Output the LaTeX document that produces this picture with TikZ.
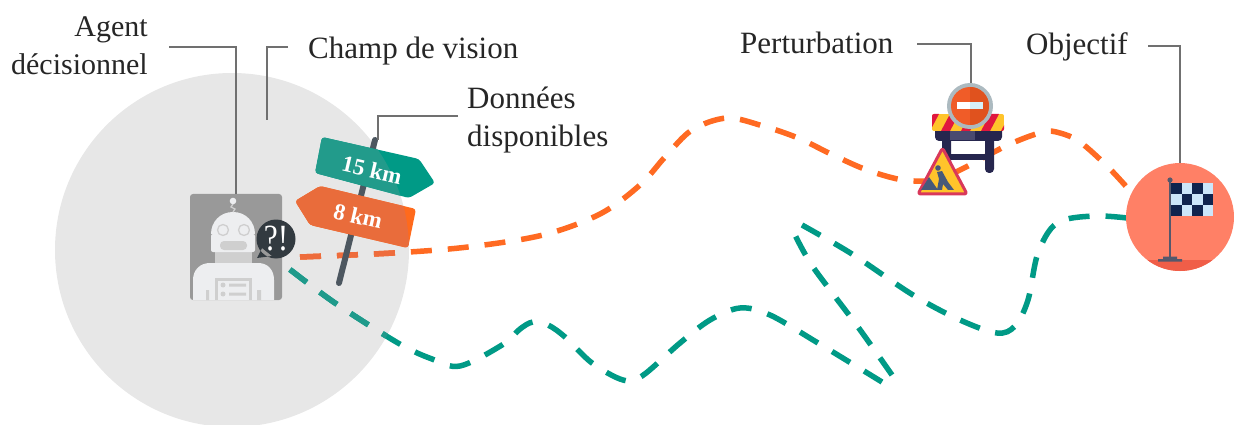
\documentclass[tikz,border=0pt]{standalone}
\usepackage{fontspec}
\setmainfont{Liberation Serif}
\usetikzlibrary{calc}
\definecolor{lead}{HTML}{707070}
\definecolor{fov}{HTML}{E7E7E7}
\definecolor{oran}{HTML}{FF6A22}
\definecolor{oranIn}{HTML}{EE6C3C}
\definecolor{teal2}{HTML}{009A86}
\definecolor{tealIn}{HTML}{1F9A8B}
\definecolor{tealA}{HTML}{009A86}
\definecolor{tealB}{HTML}{229B8B}
\definecolor{orA}{HTML}{FF6A1C}
\definecolor{orB}{HTML}{E96C3B}
\definecolor{navy}{HTML}{26264E}
\definecolor{navyL}{HTML}{4A4A70}
\definecolor{ylw}{HTML}{FFC42B}
\definecolor{redd}{HTML}{E0173F}
\definecolor{wgrey}{HTML}{46597A}
\definecolor{rface}{HTML}{EDEEF0}
\definecolor{rshade}{HTML}{CFCFCF}
\definecolor{bubc}{HTML}{323A40}
\definecolor{postc}{HTML}{4D5760}
\definecolor{ringc}{HTML}{ACBAC0}
\definecolor{nokA}{HTML}{F05C28}
\definecolor{nokB}{HTML}{E0521E}
\definecolor{barB}{HTML}{D6F0F8}
\definecolor{tribord}{HTML}{D9385A}
\definecolor{goal}{HTML}{FF8066}
\definecolor{goalB}{HTML}{F05E48}
\definecolor{polec}{HTML}{55586C}
\definecolor{chkL}{HTML}{CCE6FA}
\definecolor{chkD}{HTML}{10244E}
\tikzset{
  lbl/.style={font=\fontsize{31}{38}\selectfont, text=black!85, inner sep=0pt},
  leadline/.style={draw=lead, line width=1.3pt},
  dashpath/.style={line width=5.5pt, dash pattern=on 21pt off 16pt},
  signtxt/.style={font=\fontsize{23}{26}\bfseries\selectfont, text=white, rotate=-13, inner sep=0pt},
}
\newcommand{\orangeway}{plot[smooth,tension=0.55] coordinates {(300,257)(393,253)(468,247)(543,235)(600,214)(640,185)(665,157)(692,130)(727,118)(763,126)(798,138)(833,155)(867,170)(903,180)(935,180)(960,170)(1008,145)(1043,132)(1060,133)(1080,142)(1108,167)(1132,193)}}
\newcommand{\tealwayA}{plot[smooth,tension=0.55] coordinates {(882,382)(818,343)(770,315)(740,308)(710,320)(680,343)(642,376)(623,380)(592,363)(565,337)(548,325)(533,322)(520,329)(502,345)(460,366)(432,359)(398,343)(335,303)(288,268)}}
\newcommand{\tealwayB}{plot[smooth,tension=0.5] coordinates {(892,375)(858,327)(813,267)(795,235)}}
\newcommand{\tealwayC}{plot[smooth,tension=0.55] coordinates {(802,225)(852,254)(913,295)(960,320)(997,333)(1015,326)(1028,300)(1038,253)(1057,223)(1093,216)(1127,218)}}
\newcommand{\signA}{(322,137) -- (419,159) -- (435,183) -- (409,198) -- (315,173) -- cycle}
\newcommand{\signB}{(320,186) -- (416,209) -- (408,248) -- (310,225) -- (295,201) -- cycle}
\begin{document}
\begin{tikzpicture}[x=1pt,y=-1pt]
\useasboundingbox (0,0) rectangle (1235,425);
\begin{scope}
\clip (0,0) rectangle (1235,425);
\fill[fov] (232,250) circle[radius=177];
\end{scope}
% paths
\draw[dashpath,oran] \orangeway;
\draw[dashpath,teal2,dash pattern=on 21pt off 16.5pt] \tealwayA;
\draw[dashpath,teal2] \tealwayB;
\draw[dashpath,teal2] \tealwayC;
\begin{scope}
\clip (232,250) circle[radius=177];
\draw[dashpath,oranIn] \orangeway;
\draw[dashpath,tealIn,dash pattern=on 21pt off 16.5pt] \tealwayA;
\end{scope}
% robot card
\fill[black!40, rounded corners=3pt] (190,194) rectangle (282,300);
\begin{scope}
\clip[rounded corners=3pt] (190,194) rectangle (282,300);
\fill[rshade] (215,250) rectangle (252,266);
\fill[rface] (193,300) -- (193,280) .. controls (193,270) and (200,263) .. (210,263) -- (258,263) .. controls (268,263) and (274,270) .. (274,280) -- (274,300) -- cycle;
\fill[rshade] (215,278) rectangle (252,300);
\fill[rface] (218,281) rectangle (249,300);
\fill[rshade] (223,285) circle[radius=2.5] (223,294) circle[radius=2.5];
\fill[rshade] (229,283.5) rectangle (246,286.5) (229,292.5) rectangle (246,295.5);
\fill[rshade] (206,290) rectangle (209,300) (257,290) rectangle (261,300);
\end{scope}
\fill[rface, rounded corners=2pt] (211,234) -- (211,252) -- (255,252) -- (255,234) -- cycle;
\fill[rface] (211,234) .. controls (211,222) and (220,212) .. (233,212) .. controls (246,212) and (255,222) .. (255,234) -- cycle;
\draw[rshade,line width=1.3pt] (223,230) circle[radius=5.5] (244,230) circle[radius=5.5];
\fill[rshade,rounded corners=4pt] (220,241) rectangle (247,250);
\draw[rshade,line width=1.3pt] (233,204) -- (231,207) -- (235,209) -- (233,212);
\fill[rface] (233,201) circle[radius=3.3];
% bubble
\fill[bubc] (276,239) circle[radius=19.5] (262,248) -- (257,258) -- (272,256) -- cycle;
\node[font=\fontsize{37}{38}\selectfont, text=white, inner sep=0pt, xscale=0.85] (bub) at (276,239) {?!};
% post
\coordinate (posttop) at (375,140);
\coordinate (postbot) at (339,283);
\draw[line width=6pt, line cap=round, draw=postc] (posttop) -- (postbot);
% signs
\fill[tealA, rounded corners=3pt] \signA;
\fill[orA, rounded corners=3pt] \signB;
\begin{scope}
\clip (232,250) circle[radius=177];
\fill[tealB, rounded corners=3pt] \signA;
\fill[orB, rounded corners=3pt] \signB;
\end{scope}
\node[signtxt] (km15) at (372,170) {15 km};
\node[signtxt] (km8) at (358,216) {8 km};
% barrier
\fill[navy, rounded corners=3pt] (942,135) rectangle (951,172);
\fill[navy, rounded corners=4pt] (985,135) rectangle (994,173);
\fill[navy] (951,154) rectangle (985,160);
\fill[navy, rounded corners=4pt] (935,126) rectangle (1002,141);
\fill[navyL] (950,131) rectangle (975,140);
\begin{scope}
\clip[rounded corners=2pt] (932,114) rectangle (1004,131);
\fill[ylw] (932,114) rectangle (1004,131);
\foreach \s in {921,941,961,981,1001} \fill[redd] (\s,131) -- (\s+9,114) -- (\s+18,114) -- (\s+9,131) -- cycle;
\end{scope}
\fill[ringc] (970,106) circle[radius=23];
\fill[nokA] (970,106) circle[radius=19];
\begin{scope}
\clip (970,80) rectangle (1000,130);
\fill[nokB] (970,106) circle[radius=19];
\end{scope}
\fill[white] (957,102) rectangle (970,109.5);
\fill[barB] (970,102) rectangle (983,109.5);
\draw[line width=3pt, draw=tribord, fill=ylw, line join=round, rounded corners=2.5pt] (942.5,148) -- (967,194) -- (918,194) -- cycle;
\fill[wgrey] (921,190) -- (929,177) -- (938,190) -- cycle;
\fill[wgrey] (938,168) circle[radius=2.8];
\fill[wgrey] (937,172) -- (942,171) -- (948,182) -- (954,190) -- (948,190) -- (943,184) -- (942,190) -- (937,190) -- (939,179) -- cycle;
% flag circle
\fill[goal] (1180,217) circle[radius=54];
\begin{scope}
\clip (1180,217) circle[radius=54];
\fill[goalB] (1120,260) rectangle (1240,280);
\end{scope}
\fill[polec] (1170,180) circle[radius=2.6];
\draw[line width=2.4pt, draw=polec] (1170,180) -- (1170,259);
\fill[polec] (1158,259) rectangle (1182,261.5) (1163,256.5) rectangle (1177,259);
\fill[chkL] (1171,183) rectangle (1213,216);
\foreach \cx/\cy in {0/0,2/0,1/1,3/1,0/2,2/2}
  \fill[chkD] ({1171+\cx*10.5},{183+\cy*11}) rectangle ++(10.5,11);
% labels
\node[lbl,anchor=base east,align=right,font=\fontsize{30}{38}\selectfont] (agent) at (148,75) {Agent\\décisionnel};
\node[lbl,anchor=base west] (champ) at (308,59) {Champ de vision};
\node[lbl,anchor=base west,align=left] (donn) at (467,147) {Données\\disponibles};
\node[lbl,anchor=base west] (pert) at (740,54) {Perturbation};
\node[lbl,anchor=base west] (obj) at (1026,55) {Objectif};
% leaders
\coordinate (a1) at (169,47); \coordinate (a2) at (236,194);
\draw[leadline] (a1) -| (a2);
\coordinate (c1) at (288,47); \coordinate (c2) at (267,120);
\draw[leadline] (c1) -| (c2);
\coordinate (d1) at (458,116); \coordinate (d2) at (378,140);
\draw[leadline] (d1) -| (d2);
\coordinate (p1) at (917,44); \coordinate (p2) at (971,83);
\draw[leadline] (p1) -| (p2);
\coordinate (o1) at (1148,46); \coordinate (o2) at (1180,163);
\draw[leadline] (o1) -| (o2);
\end{tikzpicture}
\end{document}
